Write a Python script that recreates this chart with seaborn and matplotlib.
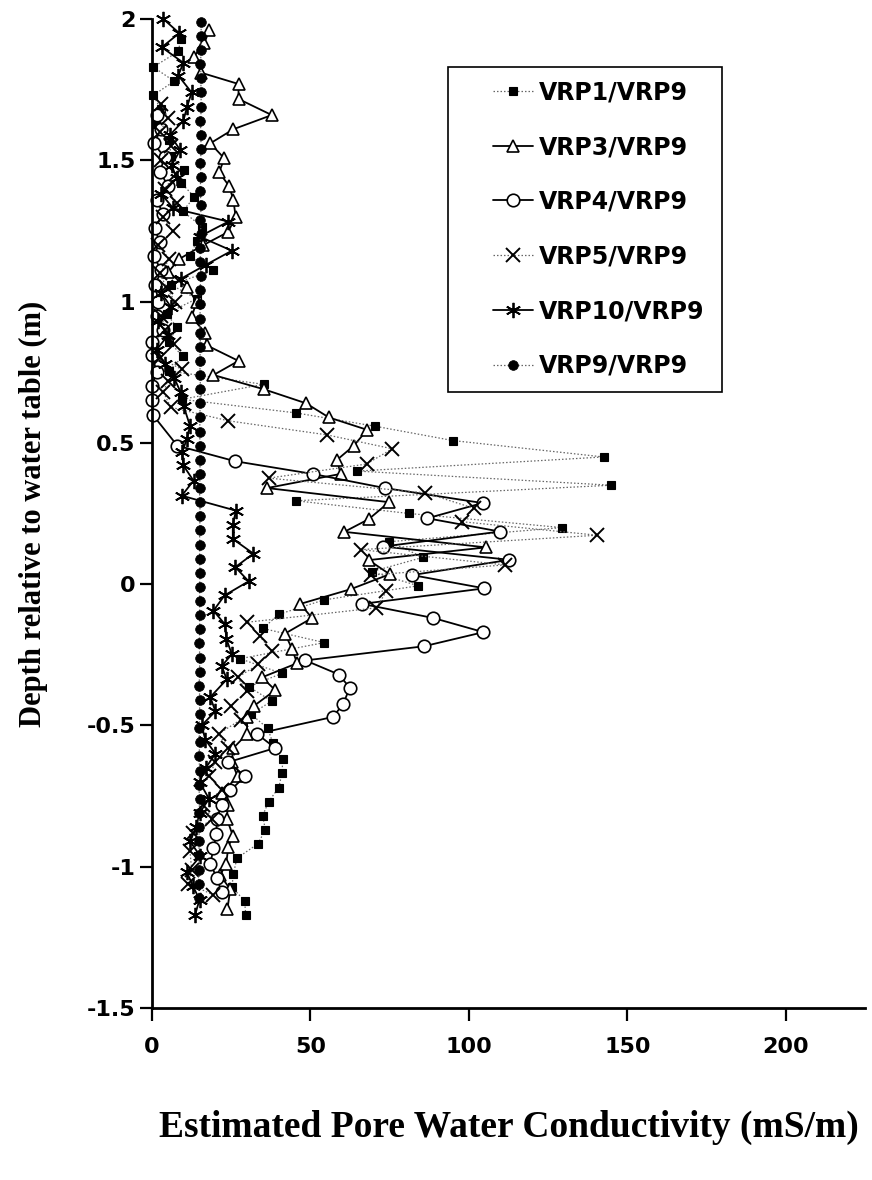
import matplotlib
matplotlib.use("Agg")
import matplotlib.pyplot as plt
from matplotlib.lines import Line2D
from matplotlib.patches import Rectangle
import seaborn as sns

# Pore water conductivity ratio profiles (mS/m) against depth relative to the water table (m)
vrp1_depth = [1.93, 1.885, 1.83, 1.78, 1.73, 1.68, 1.63, 1.57, 1.515, 1.465,
              1.42, 1.37, 1.32, 1.265, 1.215, 1.16, 1.11, 1.06, 1.01, 0.957,
              0.91, 0.857, 0.806, 0.754, 0.707, 0.654, 0.606, 0.559, 0.508, 0.45,
              0.40, 0.35, 0.295, 0.25, 0.20, 0.15, 0.095, 0.044, -0.006, -0.056,
              -0.107, -0.157, -0.207, -0.264, -0.316, -0.363, -0.414, -0.46, -0.51, -0.564,
              -0.62, -0.67, -0.72, -0.77, -0.82, -0.87, -0.92, -0.97, -1.025, -1.073,
              -1.12, -1.17]
vrp1_cond = [9.1, 8.3, 0.4, 7.0, 0.4, 2.8, 1.3, 5.5, 6.0, 10.2,
             9.2, 13.4, 9.7, 15.7, 14.1, 12.0, 19.4, 5.9, 14.1, 4.6,
             7.8, 5.5, 9.7, 5.4, 35.2, 9.4, 45.4, 70.3, 95.0, 142.5,
             64.8, 144.9, 45.4, 81.1, 129.4, 74.8, 85.6, 69.3, 84.0, 54.2,
             40.0, 35.0, 54.4, 27.8, 41.0, 30.5, 37.8, 31.2, 36.5, 38.2,
             41.3, 41.0, 40.0, 36.8, 34.9, 35.8, 33.3, 26.8, 25.7, 25.2,
             29.2, 29.6]

vrp3_depth = [1.96, 1.915, 1.865, 1.81, 1.77, 1.717, 1.66, 1.61, 1.56, 1.507,
              1.457, 1.408, 1.358, 1.30, 1.246, 1.20, 1.15, 1.105, 1.05, 1.0,
              0.945, 0.89, 0.845, 0.79, 0.74, 0.69, 0.64, 0.59, 0.546, 0.49,
              0.44, 0.39, 0.34, 0.29, 0.23, 0.185, 0.13, 0.085, 0.035, -0.018,
              -0.07, -0.12, -0.175, -0.23, -0.28, -0.33, -0.375, -0.43, -0.47, -0.53,
              -0.58, -0.63, -0.68, -0.74, -0.78, -0.83, -0.89, -0.93, -0.99, -1.03,
              -1.08, -1.15]
vrp3_cond = [18.1, 16.5, 13.1, 15.5, 27.3, 27.3, 37.8, 25.7, 18.4, 22.8,
             21.2, 24.4, 25.7, 26.4, 24.0, 16.2, 8.5, 5.2, 11.0, 14.1,
             12.5, 16.8, 17.3, 27.3, 19.4, 35.2, 48.6, 55.8, 67.9, 63.7,
             58.4, 59.5, 36.3, 74.8, 68.4, 60.7, 105.4, 68.4, 75.0, 62.7,
             46.8, 50.5, 42.0, 44.2, 45.8, 34.7, 38.9, 32.3, 30.0, 30.0,
             25.7, 25.2, 27.0, 22.0, 24.0, 23.6, 25.5, 24.1, 23.4, 21.5,
             24.7, 23.8]

vrp4_depth = [1.66, 1.61, 1.56, 1.51, 1.46, 1.41, 1.36, 1.31, 1.26, 1.21,
              1.16, 1.11, 1.06, 1.0, 0.95, 0.90, 0.857, 0.81, 0.75, 0.70,
              0.65, 0.597, 0.49, 0.435, 0.39, 0.34, 0.287, 0.233, 0.186, 0.133,
              0.086, 0.032, -0.015, -0.07, -0.12, -0.17, -0.22, -0.27, -0.32, -0.367,
              -0.425, -0.47, -0.53, -0.58, -0.63, -0.68, -0.73, -0.78, -0.83, -0.886,
              -0.935, -0.99, -1.04, -1.09]
vrp4_cond = [1.5, 3.0, 0.5, 4.0, 2.5, 5.0, 1.5, 3.5, 0.8, 2.5,
             0.5, 3.0, 1.0, 2.0, 1.5, 3.5, 0.0, 0.0, 1.5, 0.0,
             0.0, 0.4, 8.0, 26.2, 50.7, 73.5, 104.3, 86.9, 109.8, 73.0,
             112.8, 82.1, 104.9, 66.3, 88.8, 104.6, 85.8, 48.4, 59.0, 62.4,
             60.3, 57.1, 33.1, 38.9, 24.1, 29.4, 24.7, 22.0, 20.5, 20.3,
             19.4, 18.4, 20.5, 22.0]

vrp5_depth = [1.70, 1.65, 1.60, 1.55, 1.50, 1.45, 1.40, 1.35, 1.30, 1.25,
              1.20, 1.15, 1.10, 1.05, 1.0, 0.95, 0.90, 0.85, 0.80, 0.76,
              0.72, 0.68, 0.626, 0.578, 0.528, 0.479, 0.425, 0.375, 0.323, 0.268,
              0.221, 0.173, 0.122, 0.068, 0.032, -0.025, -0.084, -0.135, -0.185, -0.236,
              -0.284, -0.33, -0.38, -0.43, -0.48, -0.53, -0.58, -0.63, -0.68, -0.73,
              -0.78, -0.83, -0.88, -0.945, -1.01, -1.06, -1.10]
vrp5_cond = [3.0, 5.0, 2.5, 6.0, 3.0, 7.5, 4.0, 8.0, 3.5, 6.5,
             2.0, 5.5, 2.5, 4.5, 7.3, 3.0, 4.1, 7.0, 2.5, 9.4,
             5.0, 3.6, 5.9, 24.1, 55.3, 75.8, 67.7, 36.8, 86.2, 101.7,
             97.7, 140.5, 65.8, 111.4, 69.0, 74.0, 70.8, 30.0, 34.0, 37.8,
             33.6, 27.0, 30.0, 25.0, 28.0, 21.0, 24.0, 20.0, 18.0, 22.0,
             16.0, 19.0, 13.0, 12.0, 12.5, 11.5, 19.4]

vrp10_depth = [2.0, 1.95, 1.90, 1.845, 1.80, 1.74, 1.69, 1.64, 1.59, 1.536,
               1.483, 1.436, 1.38, 1.33, 1.283, 1.23, 1.18, 1.13, 1.08, 1.03,
               0.98, 0.93, 0.88, 0.83, 0.78, 0.73, 0.68, 0.63, 0.56, 0.514,
               0.466, 0.42, 0.366, 0.313, 0.26, 0.21, 0.16, 0.108, 0.06, 0.01,
               -0.04, -0.094, -0.142, -0.195, -0.248, -0.29, -0.337, -0.40, -0.45, -0.50,
               -0.55, -0.60, -0.65, -0.70, -0.76, -0.81, -0.86, -0.91, -0.963, -1.02,
               -1.07, -1.117, -1.17]
vrp10_cond = [3.6, 8.6, 3.1, 9.9, 8.3, 12.5, 11.1, 9.9, 5.7, 8.9,
              6.2, 7.8, 3.0, 6.7, 24.1, 15.0, 25.2, 17.0, 9.0, 3.0,
              6.0, 2.0, 5.0, 1.5, 4.0, 7.0, 9.0, 10.0, 12.0, 11.0,
              9.5, 9.9, 13.1, 9.4, 26.5, 25.5, 25.5, 32.0, 26.3, 30.5,
              22.9, 19.4, 23.0, 23.5, 25.2, 22.0, 23.6, 18.4, 20.0, 15.7,
              16.8, 20.0, 17.0, 15.0, 18.0, 15.0, 14.0, 12.0, 15.2, 11.0,
              13.0, 15.0, 13.6]

vrp9_depth = [1.99, 1.94, 1.89, 1.84, 1.79, 1.74, 1.69, 1.64, 1.59, 1.54,
              1.49, 1.44, 1.39, 1.34, 1.29, 1.24, 1.19, 1.14, 1.09, 1.04,
              0.99, 0.94, 0.89, 0.84, 0.79, 0.74, 0.69, 0.64, 0.59, 0.54,
              0.49, 0.44, 0.39, 0.34, 0.29, 0.24, 0.19, 0.14, 0.09, 0.04,
              -0.01, -0.06, -0.11, -0.16, -0.21, -0.26, -0.31, -0.36, -0.41, -0.46,
              -0.51, -0.56, -0.61, -0.66, -0.71, -0.76, -0.81, -0.86, -0.91, -0.96,
              -1.01, -1.06, -1.11]
vrp9_cond = [15.4, 15.6, 15.5, 15.3, 15.5, 15.4, 15.6, 15.3, 15.4, 15.5,
             15.3, 15.4, 15.2, 15.5, 15.3, 15.4, 15.2, 15.3, 15.4, 15.2,
             15.3, 15.1, 15.2, 15.3, 15.1, 15.2, 15.3, 15.1, 15.2, 15.0,
             15.2, 15.1, 15.2, 15.0, 15.1, 15.2, 15.0, 15.1, 15.0, 15.2,
             15.0, 15.1, 15.0, 15.1, 14.9, 15.1, 15.0, 14.9, 15.1, 15.0,
             14.9, 15.0, 14.9, 15.0, 14.8, 15.0, 14.9, 14.8, 14.9, 14.8,
             14.9, 14.7, 14.8]

series_labels = ["VRP1/VRP9", "VRP3/VRP9", "VRP4/VRP9", "VRP5/VRP9", "VRP10/VRP9", "VRP9/VRP9"]
x_ticks = [0, 50, 100, 150, 200]
y_ticks = [-1.5, -1, -0.5, 0, 0.5, 1, 1.5, 2]
y_tick_labels = ["-1.5", "-1", "-0.5", "0", "0.5", "1", "1.5", "2"]

sns.set_style("ticks")
plt.rcParams["font.family"] = ["DejaVu Sans"]
plt.rcParams["text.color"] = "black"
plt.rcParams["axes.labelcolor"] = "black"
plt.rcParams["xtick.color"] = "black"
plt.rcParams["ytick.color"] = "black"

fig = plt.figure(figsize=(8.72, 11.8), dpi=100)
ax = fig.add_axes([0.1743, 0.1458, 0.8177, 0.8381])

dotted = (0, (1.2, 1.6))
styles = [
    dict(linestyle=dotted, linewidth=0.9, color="#666666", marker="s", markersize=6,
         markerfacecolor="black", markeredgecolor="black", markeredgewidth=0.8),
    dict(linestyle="-", linewidth=1.3, color="black", marker="^", markersize=8,
         markerfacecolor="white", markeredgecolor="black", markeredgewidth=1.2),
    dict(linestyle="-", linewidth=1.3, color="black", marker="o", markersize=9,
         markerfacecolor="white", markeredgecolor="black", markeredgewidth=1.2),
    dict(linestyle=dotted, linewidth=0.9, color="#666666", marker="x", markersize=10,
         markerfacecolor="black", markeredgecolor="black", markeredgewidth=1.4),
    dict(linestyle="-", linewidth=1.3, color="black", marker=(6, 2, 0), markersize=11,
         markerfacecolor="black", markeredgecolor="black", markeredgewidth=1.3),
    dict(linestyle=dotted, linewidth=0.9, color="#666666", marker="o", markersize=7,
         markerfacecolor="black", markeredgecolor="black", markeredgewidth=0.5),
]
profiles = [
    (vrp1_cond, vrp1_depth),
    (vrp3_cond, vrp3_depth),
    (vrp4_cond, vrp4_depth),
    (vrp5_cond, vrp5_depth),
    (vrp10_cond, vrp10_depth),
    (vrp9_cond, vrp9_depth),
]

for (cond, depth), st in zip(profiles, styles):
    sns.lineplot(x=cond, y=depth, sort=False, estimator=None, legend=False,
                 ax=ax, clip_on=False, **st)

ax.set_xlim(0, 225)
ax.set_ylim(-1.5, 2)
ax.set_xticks(x_ticks)
ax.set_xticklabels([str(t) for t in x_ticks])
ax.set_yticks(y_ticks)
ax.set_yticklabels(y_tick_labels)
for side in ("top", "right"):
    ax.spines[side].set_visible(False)
for side in ("left", "bottom"):
    ax.spines[side].set_linewidth(2.0)
    ax.spines[side].set_color("black")
ax.tick_params(axis="both", direction="out", length=9, width=1.6, colors="black",
               labelsize=16)
ax.tick_params(axis="y", pad=3)
ax.tick_params(axis="x", pad=12)
for lab in ax.get_xticklabels() + ax.get_yticklabels():
    lab.set_fontweight("bold")

serif = ["Liberation Serif", "DejaVu Serif"]
ax.set_xlabel("Estimated Pore Water Conductivity (mS/m)", family=serif,
              fontweight="bold", fontsize=27, labelpad=38)
ax.set_ylabel("Depth relative to water table (m)", family=serif,
              fontweight="bold", fontsize=22, labelpad=28)

# legend box
ax.add_patch(Rectangle((0.415, 0.623), 0.384, 0.328, transform=ax.transAxes,
                       facecolor="white", edgecolor="black", linewidth=1.2,
                       zorder=5, clip_on=False))
handles = [Line2D([], [], **st) for st in styles]
leg = ax.legend(handles, series_labels, loc="upper left",
                bbox_to_anchor=(0.478, 0.938), frameon=False, fontsize=17,
                handlelength=1.7, handletextpad=0.25, labelspacing=1.3,
                borderpad=0, borderaxespad=0)
leg.set_zorder(6)
for txt in leg.get_texts():
    txt.set_fontweight("bold")
    txt.set_color("black")

fig.savefig("out.png", dpi=100, facecolor="white")
